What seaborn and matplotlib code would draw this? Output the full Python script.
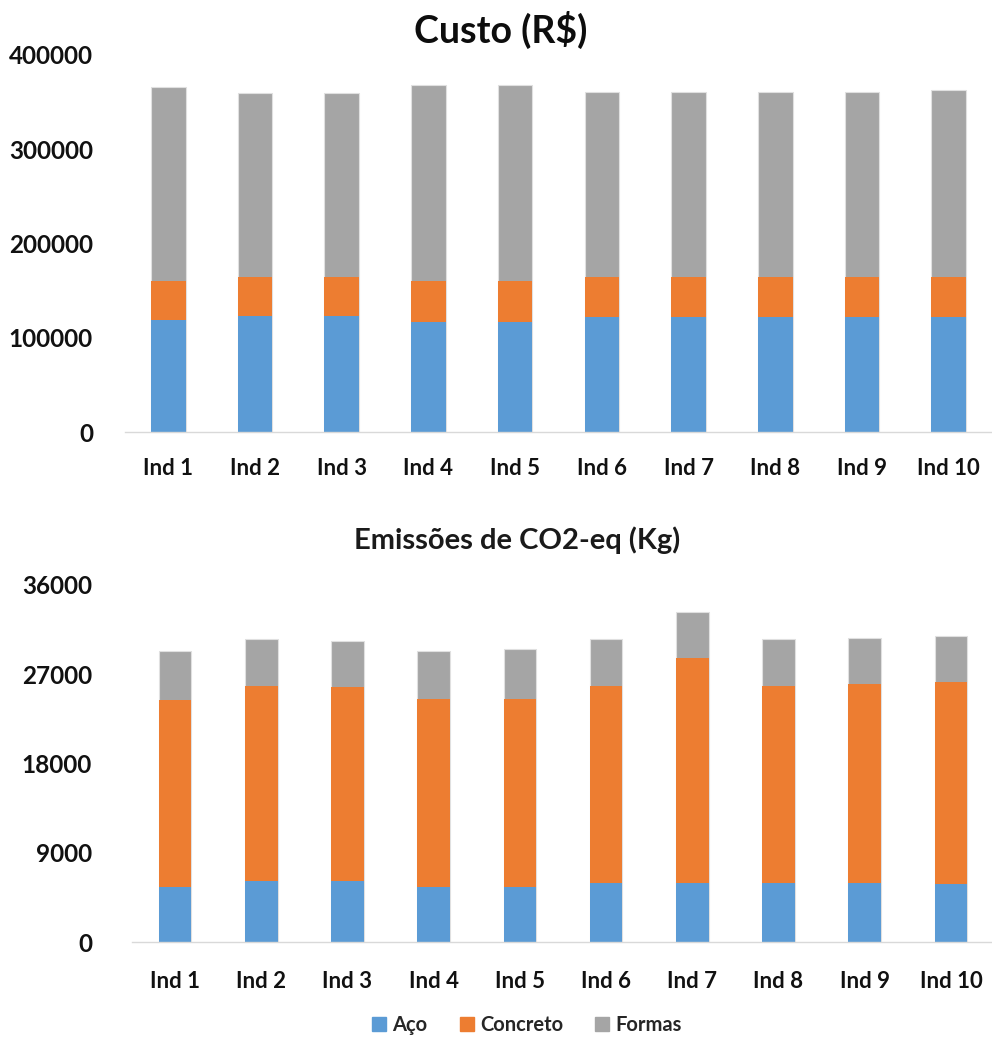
import numpy as np
import pandas as pd
import matplotlib
matplotlib.use("Agg")
import matplotlib.pyplot as plt
import seaborn as sns
from matplotlib.patches import Patch

individuos = ["Ind 1", "Ind 2", "Ind 3", "Ind 4", "Ind 5",
              "Ind 6", "Ind 7", "Ind 8", "Ind 9", "Ind 10"]

# custo (R$)
custo_aco = [118500, 123400, 123400, 116700, 116700, 121700, 121700, 121700, 121700, 121700]
custo_concreto = [42000, 40700, 40700, 43800, 43800, 42400, 42400, 42400, 42400, 42400]
custo_formas = [205900, 195300, 195300, 207300, 207300, 197000, 197000, 197000, 197000, 198400]

# emissoes CO2-eq (kg)
co2_aco = [5515, 6120, 6120, 5515, 5515, 5985, 5985, 5985, 5985, 5850]
co2_concreto = [18885, 19730, 19560, 19020, 19020, 19865, 22620, 19865, 20030, 20335]
co2_formas = [4975, 4670, 4705, 4840, 5010, 4670, 4675, 4670, 4675, 4675]

cor_aco = "#5b9bd5"
cor_concreto = "#ed7d31"
cor_formas = "#a5a5a5"

sns.set_style("white")
plt.rcParams["font.family"] = ["Lato", "DejaVu Sans"]

fig = plt.figure(figsize=(9.92, 10.39), dpi=100)
ax1 = fig.add_axes([125/992, 1-432/1039, 867/992, 377/1039])
ax2 = fig.add_axes([132/992, 1-942/1039, 862/992, 357/1039])


def stacked(ax, aco, concreto, formas, width):
    aco = np.array(aco)
    concreto = np.array(concreto)
    formas = np.array(formas)
    total = aco + concreto + formas
    sns.barplot(x=individuos, y=total, color=cor_formas, saturation=1,
                width=width, edgecolor="#e0e0e0", linewidth=0.8, ax=ax)
    sns.barplot(x=individuos, y=aco + concreto, color=cor_concreto, saturation=1,
                width=width, linewidth=0, ax=ax)
    sns.barplot(x=individuos, y=aco, color=cor_aco, saturation=1,
                width=width, linewidth=0, ax=ax)


stacked(ax1, custo_aco, custo_concreto, custo_formas, 0.4)
stacked(ax2, co2_aco, co2_concreto, co2_formas, 0.38)

ax1.set_ylim(0, 400000)
ax1.set_yticks([0, 100000, 200000, 300000, 400000])
ax2.set_ylim(0, 36000)
ax2.set_yticks([0, 9000, 18000, 27000, 36000])

for ax, ypad, xpad in [(ax1, 32, 19), (ax2, 40, 21)]:
    ax.set_xlim(-0.5, 9.5)
    sns.despine(ax=ax, left=True)
    ax.spines["bottom"].set_color("#d9d9d9")
    ax.spines["bottom"].set_linewidth(1)
    ax.tick_params(axis="both", length=0)
    ax.tick_params(axis="y", pad=ypad * 0.72, labelsize=17.5)
    ax.tick_params(axis="x", pad=xpad, labelsize=16)
    ax.set_xlabel("")
    ax.set_ylabel("")
    for lbl in ax.get_xticklabels() + ax.get_yticklabels():
        lbl.set_fontweight("bold")
        lbl.set_color("#111111")

fig.text(501/992, 1 - 30/1039, "Custo (R$)", ha="center", va="center",
         fontsize=27, fontweight="bold", color="#0d0d0d")
fig.text(517/992, 1 - 540/1039, "Emissões de CO2-eq (Kg)", ha="center", va="center",
         fontsize=21, fontweight="bold", color="#1a1a1a")

handles = [Patch(color=cor_aco, label="Aço"),
           Patch(color=cor_concreto, label="Concreto"),
           Patch(color=cor_formas, label="Formas")]
fig.legend(handles=handles, loc="center", bbox_to_anchor=(527/992, 1 - 1025/1039),
           ncol=3, frameon=False, handlelength=0.7, handleheight=0.7,
           handletextpad=0.3, columnspacing=1.6,
           prop={"weight": "bold", "size": 14.5})

fig.savefig("out.png", dpi=100)
